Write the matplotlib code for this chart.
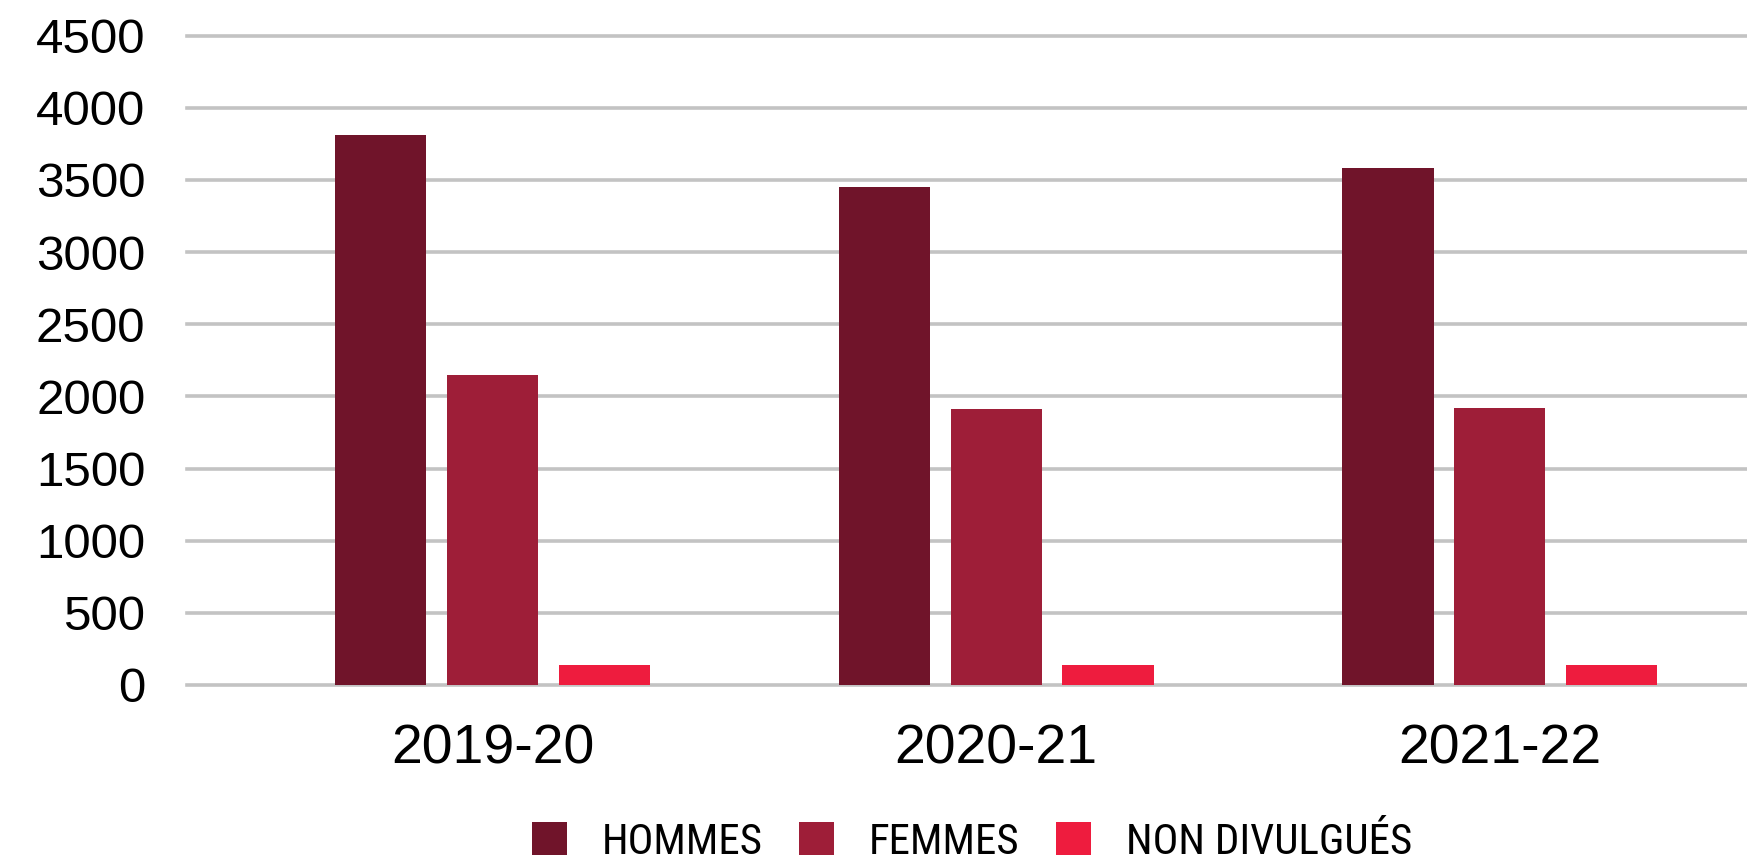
import matplotlib
matplotlib.use("Agg")
import matplotlib.pyplot as plt
from matplotlib.patches import Patch
from matplotlib import font_manager
import numpy as np

# ---- data ----
categories = ["2019-20", "2020-21", "2021-22"]
series_labels = ["HOMMES", "FEMMES", "NON DIVULGUÉS"]
hommes = [3815, 3450, 3580]
femmes = [2148, 1915, 1921]
non_divulgues = [138, 136, 138]
y_ticks = [0, 500, 1000, 1500, 2000, 2500, 3000, 3500, 4000, 4500]

colors = ["#70142a", "#9e1e38", "#ee1c3e"]

W, H = 1747, 866
fig = plt.figure(figsize=(W / 100, H / 100), dpi=100)
ax = fig.add_axes([187 / W, 1 - 685 / H, 1 - 187 / W, (685 - 35.7) / H])

x = np.arange(len(categories))
width = 0.181
offset = 0.222
for vals, col, lab, off in zip([hommes, femmes, non_divulgues], colors,
                               series_labels, [-offset, 0, offset]):
    ax.bar(x + off, vals, width, color=col, label=lab, zorder=3)

ax.set_xlim(-0.607, 2.491)
ax.set_ylim(0, 4500)
ax.set_yticks(y_ticks)
ax.set_yticklabels([str(v) for v in y_ticks])
ax.set_xticks(x)
ax.set_xticklabels(categories)

for v in y_ticks:
    ax.axhline(v, color="#c3c3c3", lw=2.6, zorder=1, clip_on=False)

for s in ax.spines.values():
    s.set_visible(False)
ax.tick_params(axis="both", length=0)
ax.tick_params(axis="y", pad=30, labelsize=35.5)
ax.tick_params(axis="x", pad=28, labelsize=40)
for t in ax.get_xticklabels() + ax.get_yticklabels():
    t.set_fontfamily(["Liberation Sans", "DejaVu Sans"])
    t.set_color("black")

# pick a condensed family if one is installed
names = {f.name for f in font_manager.fontManager.ttflist}
cond = [n for n in ["Liberation Sans Narrow", "DejaVu Sans Condensed",
                    "Roboto Condensed", "Open Sans Condensed"] if n in names]
cond_entries = [f for f in font_manager.fontManager.ttflist
                if "condensed" in str(f.stretch).lower() or "Condensed" in f.fname
                or "Narrow" in f.fname]
if cond:
    prop = font_manager.FontProperties(family=cond[0], size=31)
elif cond_entries:
    prop = font_manager.FontProperties(fname=cond_entries[0].fname, size=31)
else:
    prop = font_manager.FontProperties(family=["DejaVu Sans"], stretch="condensed", size=27)

handles = [Patch(facecolor=c, edgecolor="none") for c in colors]
leg = fig.legend(handles, series_labels, loc="center", ncol=3,
                 bbox_to_anchor=(972 / W, 1 - 842 / H), frameon=False,
                 handlelength=0.82, handleheight=0.82, handletextpad=0.8,
                 columnspacing=0.85, prop=prop)

fig.savefig("out.png", dpi=100, facecolor="white")
